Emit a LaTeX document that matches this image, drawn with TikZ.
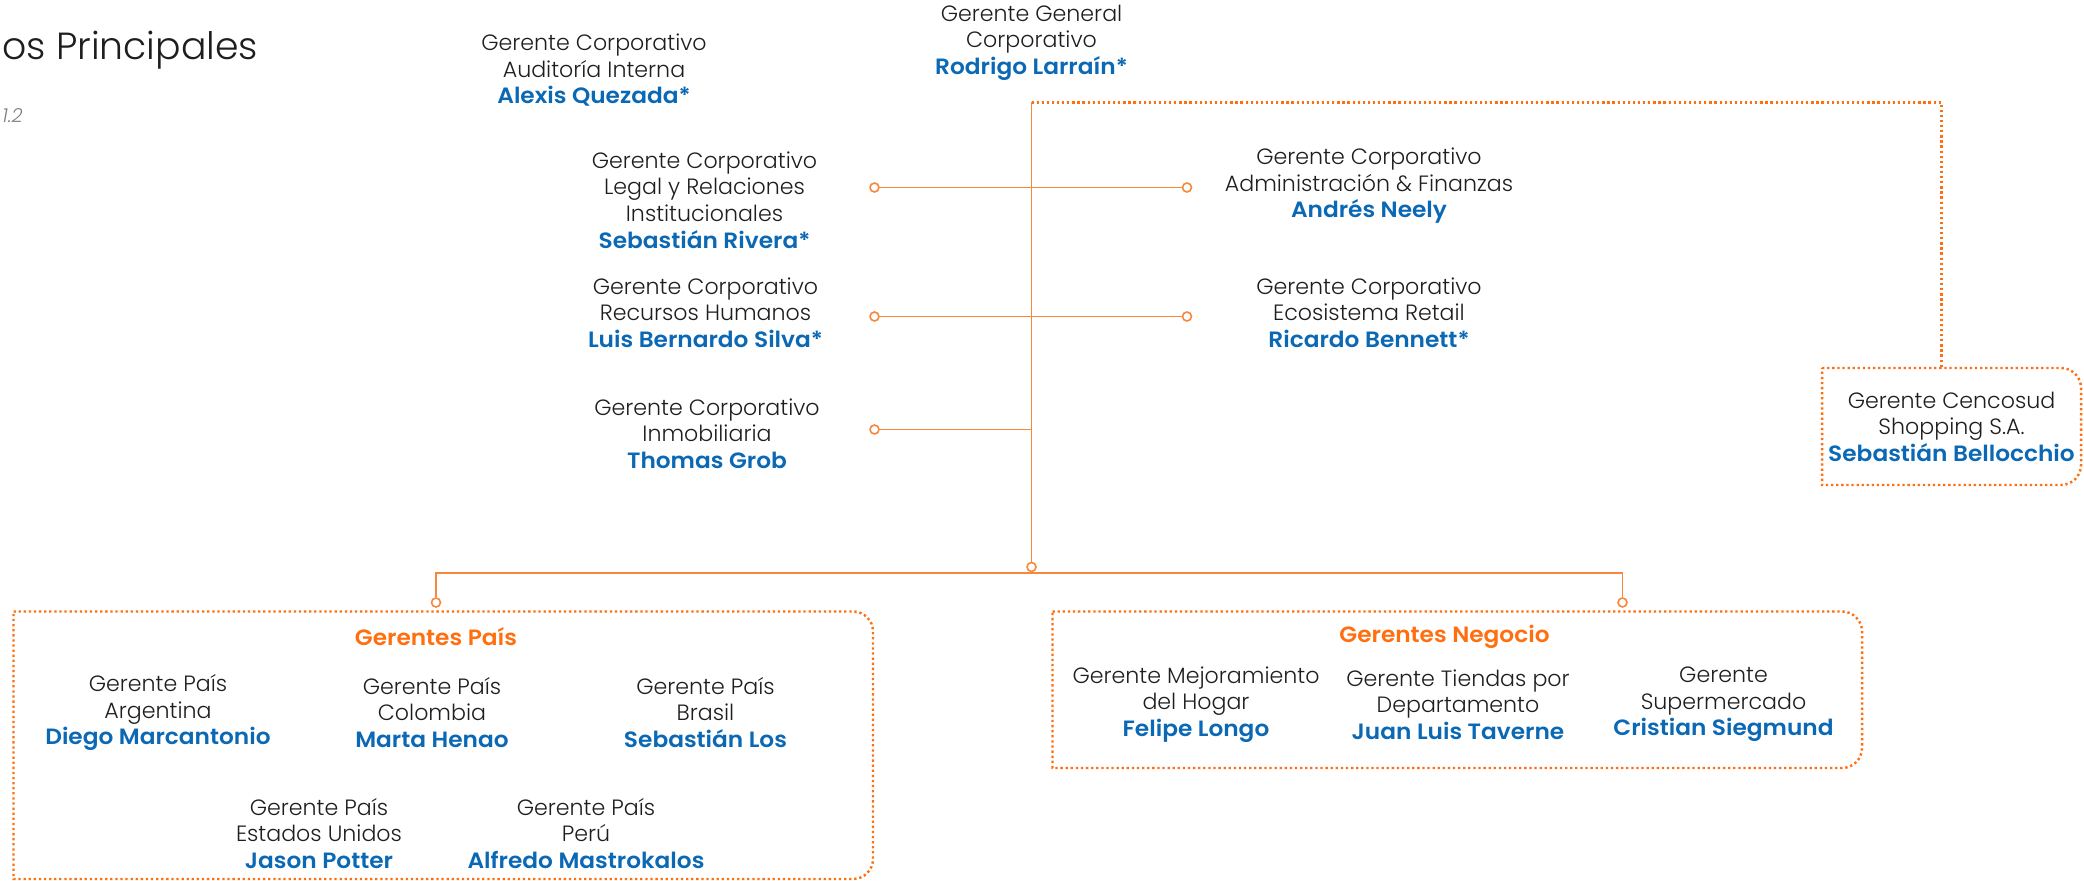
\documentclass[tikz,border=0pt]{standalone}
\usepackage{fontspec}
\setmainfont{Poppins}[UprightFont={* Light},BoldFont={* SemiBold},BoldFeatures={FakeStretch=1.05}]
\usepackage{xcolor}
\usepackage{tikz}
\usetikzlibrary{positioning,calc,backgrounds}
\definecolor{cblue}{HTML}{0A68B4}
\definecolor{corange}{HTML}{FF6F0F}
\definecolor{cline}{HTML}{F7873A}
\definecolor{ctext}{HTML}{1E1E1E}
\newcommand{\who}[1]{{\color{cblue}\bfseries #1}}
\tikzset{
    % manager node (plain text block)
    mgr/.style = {align=center, inner sep=0, text=ctext, font=\fontsize{12.6}{15.1}\selectfont},
    % group title
    gtitle/.style = {inner sep=0, text=corange, font=\fontsize{12.6}{15.1}\selectfont\bfseries},
    % solid connection
    sconc/.style = {draw=cline, line width=1.1pt},
    % dotted connection and frames
    dconc/.style = {draw=corange, line width=1.4pt, dash pattern=on 1.3pt off 1.6pt},
    % junction (small open circle)
    fjunc/.style = {draw=cline, fill=white, circle, line width=0.9pt, inner sep=0, minimum size=1.8mm}
  }
% frame with rounded corners on the right side only
\newcommand{\halfround}[4]{%
  \draw[dconc] (#1,#2) -- ({#3-0.4},#2) arc[start angle=90,end angle=0,radius=0.4]
    -- (#3,{#4+0.4}) arc[start angle=0,end angle=-90,radius=0.4] -- (#1,#4) -- cycle;}
\begin{document}
\begin{tikzpicture}
\useasboundingbox (0,0) rectangle (41.68,-17.62);

% heading, cut at the left edge
\node [anchor=base west, inner sep=0, text=ctext, font=\fontsize{21.5}{26}\selectfont] (head) at (0.04,-1.2) {os Principales};
\node [anchor=base east, inner sep=0, text=gray, font=\fontsize{11}{13}\selectfont\itshape] (sect) at (0.46,-2.45) {1.2};

% corporate managers
\node [mgr] (ceo) at (20.63,-0.85) {Gerente General\\Corporativo\\\who{Rodrigo Larraín*}};
\node [mgr] (audit) at (11.88,-1.41) {Gerente Corporativo\\Auditoría Interna\\\who{Alexis Quezada*}};
\node [mgr] (legal) at (14.09,-4.0) {Gerente Corporativo\\Legal y Relaciones\\Institucionales\\\who{Sebastián Rivera*}};
\node [mgr] (admin) at (27.38,-3.72) {Gerente Corporativo\\Administración \& Finanzas\\\who{Andrés Neely}};
\node [mgr] (rrhh) at (14.11,-6.25) {Gerente Corporativo\\Recursos Humanos\\\who{Luis Bernardo Silva*}};
\node [mgr] (retail) at (27.38,-6.25) {Gerente Corporativo\\Ecosistema Retail\\\who{Ricardo Bennett*}};
\node [mgr] (inmob) at (14.14,-8.67) {Gerente Corporativo\\Inmobiliaria\\\who{Thomas Grob}};
\node [mgr] (shop) at (39.03,-8.53) {Gerente Cencosud\\Shopping S.A.\\\who{Sebastián Bellocchio}};

% junctions
\coordinate (top) at (20.63,-2.05);
\coordinate (bus) at (20.63,-11.46);
\coordinate (shopin) at (38.83,-7.36);
\node [fjunc] (jLegal) at (17.49,-3.75) {};
\node [fjunc] (jAdmin) at (23.74,-3.75) {};
\node [fjunc] (jRRHH) at (17.49,-6.33) {};
\node [fjunc] (jRetail) at (23.74,-6.33) {};
\node [fjunc] (jInmob) at (17.49,-8.59) {};
\node [fjunc] (jMain) at (20.63,-11.34) {};
\node [fjunc] (jPais) at (8.72,-12.05) {};
\node [fjunc] (jNeg) at (32.45,-12.05) {};

\begin{scope}[on background layer]
\draw [sconc] (top) -- (jMain);
\draw [sconc] (jLegal) -- (jAdmin);
\draw [sconc] (jRRHH) -- (jRetail);
\draw [sconc] (jInmob) -- (jInmob -| top);
\draw [sconc] (jPais) |- (bus) -| (jNeg);
\draw [dconc] (top) -| (shopin);
\end{scope}

% frames
\halfround{36.44}{-7.36}{41.62}{-9.70}
\halfround{0.27}{-12.23}{17.46}{-17.58}
\halfround{21.05}{-12.23}{37.24}{-15.36}

% country managers
\node [gtitle] (tPais) at (8.72,-12.73) {Gerentes País};
\node [mgr] (arg) at (3.16,-14.25) {Gerente País\\Argentina\\\who{Diego Marcantonio}};
\node [mgr] (col) at (8.64,-14.25) {Gerente País\\Colombia\\\who{Marta Henao}};
\node [mgr] (bra) at (14.11,-14.25) {Gerente País\\Brasil\\\who{Sebastián Los}};
\node [mgr] (usa) at (6.38,-16.67) {Gerente País\\Estados Unidos\\\who{Jason Potter}};
\node [mgr] (per) at (11.72,-16.67) {Gerente País\\Perú\\\who{Alfredo Mastrokalos}};

% business managers
\node [gtitle] (tNeg) at (28.89,-12.73) {Gerentes Negocio};
\node [mgr] (hogar) at (23.92,-14.09) {Gerente Mejoramiento\\del Hogar\\\who{Felipe Longo}};
\node [mgr] (tiendas) at (29.16,-14.09) {Gerente Tiendas por\\Departamento\\\who{Juan Luis Taverne}};
\node [mgr] (super) at (34.47,-14.09) {Gerente\\Supermercado\\\who{Cristian Siegmund}};

\end{tikzpicture}
\end{document}
